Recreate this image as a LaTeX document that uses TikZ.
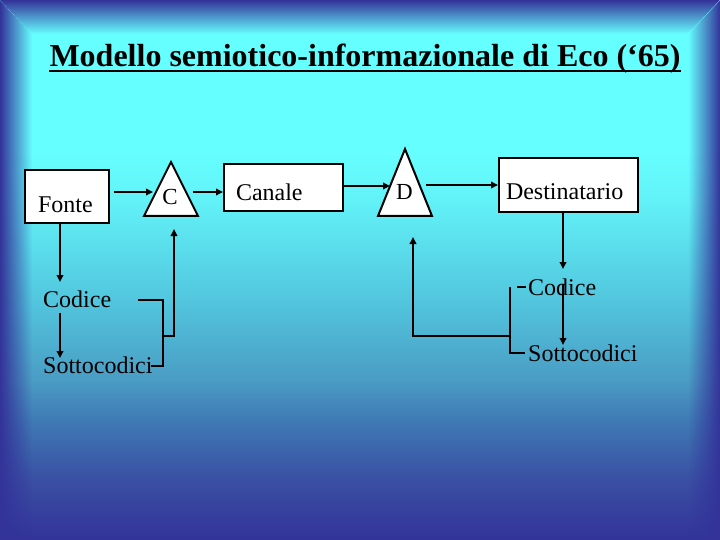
\documentclass[tikz,border=0pt]{standalone}
\usepackage{fontspec}
\setmainfont{Liberation Serif}
\usetikzlibrary{arrows.meta,fadings,calc}
\definecolor{dkblue}{HTML}{333399}
\definecolor{cyanA}{HTML}{66FFFF}
\definecolor{bgA}{HTML}{3A4FA3}
\definecolor{bgB}{HTML}{3F7AB5}
\definecolor{bgC}{HTML}{4A9CC4}
\definecolor{bgD}{HTML}{52C6DE}
\definecolor{bgE}{HTML}{62F2F8}
\pgfdeclareverticalshading{bgshade}{100bp}{color(0bp)=(dkblue); color(25bp)=(dkblue); color(30.56bp)=(bgA); color(36.1bp)=(bgB); color(39.8bp)=(bgC); color(47.2bp)=(bgD); color(56.5bp)=(bgE); color(61.1bp)=(cyanA); color(75bp)=(cyanA); color(100bp)=(cyanA)}
\tikzfading[name=fadeleft, left color=transparent!0, right color=transparent!100]
\tikzfading[name=faderight, left color=transparent!100, right color=transparent!0]
\tikzfading[name=fadetop, top color=transparent!0, bottom color=transparent!100]
\tikzset{
  box/.style={draw, line width=2pt, fill=white, inner ysep=0pt, align=left, font=\fontsize{24}{28}\selectfont},
  tri/.style={draw, line width=2pt, fill=white, line join=miter},
  arr/.style={line width=2pt, -{Triangle[length=7pt,width=6.5pt]}},
  ln/.style={line width=2pt},
  lab/.style={font=\fontsize{24}{28}\selectfont, inner sep=0pt, anchor=base west},
  tlab/.style={font=\fontsize{23}{28}\selectfont, inner sep=0pt, anchor=base}
}
\begin{document}
\begin{tikzpicture}[x=1pt,y=-1pt]
\useasboundingbox (0,0) rectangle (720,540);
\shade[shading=bgshade] (0,0) rectangle (720,540);
\fill[dkblue, path fading=fadetop] (0,0) -- (720,0) -- (688,34) -- (32,34) -- cycle;
\fill[dkblue, path fading=fadeleft] (0,0) -- (32,34) -- (32,540) -- (0,540) -- cycle;
\fill[dkblue, path fading=faderight] (720,0) -- (688,34) -- (688,540) -- (720,540) -- cycle;

% title
\node[inner sep=0pt, anchor=base, font=\fontsize{32}{36}\selectfont\bfseries] (title) at (365,67) {Modello semiotico-informazionale di Eco (‘65)};
\draw[line width=2pt] ($(title.base west)+(0,4)$) -- ($(title.base east)+(0,4)$);

% boxes
\node[box, anchor=north west, minimum width=84pt, minimum height=53pt, inner xsep=13pt, text width=58pt, text height=43pt, text depth=10pt] (fonte) at (24,169) {Fonte};
\node[box, anchor=north west, minimum width=119pt, minimum height=47pt, inner xsep=12pt, text width=95pt, text height=37pt, text depth=10pt] (canale) at (223,163) {Canale};
\node[box, anchor=north west, minimum width=139pt, minimum height=54pt, inner xsep=7pt, text width=125pt, text height=42pt, text depth=12pt] (dest) at (498,157) {Destinatario};

% triangles
\coordinate (cA) at (171,162);
\coordinate (cR) at (198,216);
\coordinate (cL) at (144,216);
\draw[tri] (cA) -- (cR) -- (cL) -- cycle;
\node[tlab] (cT) at (170,205) {C};
\coordinate (dA) at (405,149);
\coordinate (dR) at (432,216);
\coordinate (dL) at (378,216);
\draw[tri] (dA) -- (dR) -- (dL) -- cycle;
\node[tlab] (dT) at (404.5,200) {D};

% texts
\node[lab] (codL) at (43,307) {Codice};
\node[lab] (sotL) at (43,373) {Sottocodici};
\node[lab] (codR) at (528,295) {Codice};
\node[lab] (sotR) at (528,361) {Sottocodici};

% coordinates
\coordinate (fOut) at (114,192);
\coordinate (cIn) at (153,192);
\coordinate (cOut) at (193,192);
\coordinate (dIn) at (390,186);
\coordinate (dOut) at (426,185);
\coordinate (fDown) at (60,222);
\coordinate (codLtop) at (60,282);
\coordinate (codLbot) at (60,313);
\coordinate (sotLtop) at (60,358);
\coordinate (destDown) at (563,211);
\coordinate (codRtop) at (563,269);
\coordinate (codRmid) at (563,284);
\coordinate (sotRtop) at (563,345);

% main chain
\draw[arr] (fOut) -- (cIn);
\draw[arr] (cOut) -- (cOut -| canale.west);
\draw[arr] (dIn -| canale.east) -- (dIn);
\draw[arr] (dOut) -- (dOut -| dest.west);

% left column
\draw[arr] (fDown) -- (codLtop);
\draw[arr] (codLbot) -- (sotLtop);
\coordinate (lb1) at (138,300);
\coordinate (lb2) at (163,300);
\coordinate (lb3) at (163,366);
\coordinate (lb4) at (151,366);
\coordinate (lbm) at (163,336);
\coordinate (lup) at (174,229);
\draw[ln, line join=miter] (lb1) -- (lb2) -- (lb3) -- (lb4);
\draw[arr] (lbm) -- (lbm -| lup) -- (lup);

% right column
\draw[arr] (destDown) -- (codRtop);
\draw[arr] (codRmid) -- (sotRtop);
\coordinate (rd1) at (517,287);
\coordinate (rd2) at (526,287);
\draw[ln] (rd1) -- (rd2);
\coordinate (rb1) at (510,287);
\coordinate (rb2) at (510,353);
\coordinate (rb3) at (525,353);
\coordinate (rbm) at (510,336);
\coordinate (rup) at (413,237);
\draw[ln, line join=miter] (rb1) -- (rb2) -- (rb3);
\draw[arr] (rbm) -- (rbm -| rup) -- (rup);
\end{tikzpicture}
\end{document}
